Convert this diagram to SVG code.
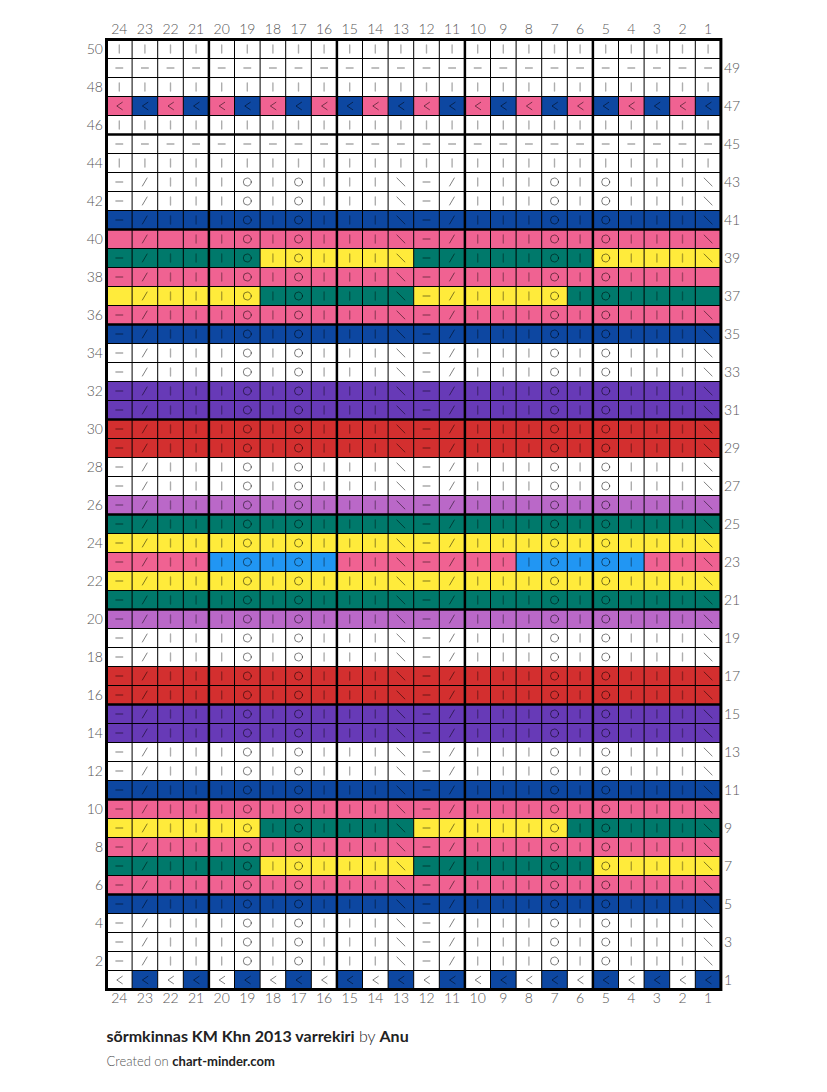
<svg xmlns="http://www.w3.org/2000/svg" xmlns:xlink="http://www.w3.org/1999/xlink" width="827" height="1092" viewBox="0 0 827 1092">
<style>
.pk{fill:#f06292}.bl{fill:#0d47a1}.gr{fill:#00796b}.ye{fill:#ffeb3b}.pu{fill:#673ab7}.rd{fill:#d32f2f}.or{fill:#ba68c8}.lb{fill:#2196f3}.wh{fill:#fff}
.sym{fill:none;stroke:#000;stroke-width:1;stroke-opacity:.5;stroke-linecap:round}
.k{stroke-opacity:.32;stroke-width:1.4}
.thin{fill:none;stroke:#000;stroke-width:1}
.thick{fill:none;stroke:#000;stroke-width:2.5}
.lab{font-family:Lato,"Liberation Sans",sans-serif;font-size:14px;fill:#555;font-weight:300}
.t1{font-family:Lato,"Liberation Sans",sans-serif;font-size:16px;fill:#222}
.t2{font-family:Lato,"Liberation Sans",sans-serif;font-size:13px;fill:#555}
</style>
<defs>
<path id="k" class="sym k" d="M12.8 5.5V13.5"/>
<path id="p" class="sym" d="M9.3 9.5H16.3"/>
<path id="r" class="sym" d="M10.3 13.5L15 5.5"/>
<path id="l" class="sym" d="M8.8 5.5L16.8 13.5"/>
<circle id="o" class="sym" cx="12.8" cy="9.5" r="4"/>
<path id="d" class="sym" d="M15.8 5.8L10.3 9.5L15.8 13.2"/>
<g id="std">
<use href="#p" x="0"/><use href="#r" x="25.6"/><use href="#k" x="51.2"/><use href="#k" x="76.8"/><use href="#k" x="102.4"/><use href="#o" x="128"/><use href="#k" x="153.6"/><use href="#o" x="179.2"/><use href="#k" x="204.8"/><use href="#k" x="230.4"/><use href="#k" x="256"/><use href="#l" x="281.6"/>
<use href="#p" x="307.2"/><use href="#r" x="332.8"/><use href="#k" x="358.4"/><use href="#k" x="384"/><use href="#k" x="409.6"/><use href="#o" x="435.2"/><use href="#k" x="460.8"/><use href="#o" x="486.4"/><use href="#k" x="512"/><use href="#k" x="537.6"/><use href="#k" x="563.2"/><use href="#l" x="588.8"/>
</g>
<g id="h12k"><use href="#k" x="0"/><use href="#k" x="25.6"/><use href="#k" x="51.2"/><use href="#k" x="76.8"/><use href="#k" x="102.4"/><use href="#k" x="128"/><use href="#k" x="153.6"/><use href="#k" x="179.2"/><use href="#k" x="204.8"/><use href="#k" x="230.4"/><use href="#k" x="256"/><use href="#k" x="281.6"/></g>
<g id="rk"><use href="#h12k"/><use href="#h12k" x="307.2"/></g>
<g id="h12p"><use href="#p" x="0"/><use href="#p" x="25.6"/><use href="#p" x="51.2"/><use href="#p" x="76.8"/><use href="#p" x="102.4"/><use href="#p" x="128"/><use href="#p" x="153.6"/><use href="#p" x="179.2"/><use href="#p" x="204.8"/><use href="#p" x="230.4"/><use href="#p" x="256"/><use href="#p" x="281.6"/></g>
<g id="rp"><use href="#h12p"/><use href="#h12p" x="307.2"/></g>
<g id="h12d"><use href="#d" x="0"/><use href="#d" x="25.6"/><use href="#d" x="51.2"/><use href="#d" x="76.8"/><use href="#d" x="102.4"/><use href="#d" x="128"/><use href="#d" x="153.6"/><use href="#d" x="179.2"/><use href="#d" x="204.8"/><use href="#d" x="230.4"/><use href="#d" x="256"/><use href="#d" x="281.6"/></g>
<g id="rd"><use href="#h12d"/><use href="#h12d" x="307.2"/></g>
<g id="alt"><rect x="25.6" width="25.6" height="19"/><rect x="76.8" width="25.6" height="19"/><rect x="128" width="25.6" height="19"/><rect x="179.2" width="25.6" height="19"/><rect x="230.4" width="25.6" height="19"/><rect x="281.6" width="25.6" height="19"/><rect x="332.8" width="25.6" height="19"/><rect x="384" width="25.6" height="19"/><rect x="435.2" width="25.6" height="19"/><rect x="486.4" width="25.6" height="19"/><rect x="537.6" width="25.6" height="19"/><rect x="588.8" width="25.6" height="19"/></g>
</defs>
<rect width="827" height="1092" fill="#fff"/>
<g id="chart" transform="translate(106.5,39.5)">
<g id="cells">
<rect class="pk" x="0" y="57" width="614.4" height="19"/>
<use href="#alt" y="57" class="bl"/>
<rect class="bl" x="0" y="171" width="614.4" height="19"/>
<rect class="pk" x="0" y="190" width="614.4" height="19"/>
<rect class="gr" x="0" y="209" width="614.4" height="19"/>
<rect class="ye" x="153.6" y="209" width="153.6" height="19"/>
<rect class="ye" x="486.4" y="209" width="128" height="19"/>
<rect class="pk" x="0" y="228" width="614.4" height="19"/>
<rect class="ye" x="0" y="247" width="614.4" height="19"/>
<rect class="gr" x="153.6" y="247" width="153.6" height="19"/>
<rect class="gr" x="460.8" y="247" width="153.6" height="19"/>
<rect class="pk" x="0" y="266" width="614.4" height="19"/>
<rect class="bl" x="0" y="285" width="614.4" height="19"/>
<rect class="pu" x="0" y="342" width="614.4" height="38"/>
<rect class="rd" x="0" y="380" width="614.4" height="38"/>
<rect class="or" x="0" y="456" width="614.4" height="19"/>
<rect class="gr" x="0" y="475" width="614.4" height="19"/>
<rect class="ye" x="0" y="494" width="614.4" height="19"/>
<rect class="pk" x="0" y="513" width="614.4" height="19"/>
<rect class="lb" x="102.4" y="513" width="128" height="19"/>
<rect class="lb" x="409.6" y="513" width="128" height="19"/>
<rect class="ye" x="0" y="532" width="614.4" height="19"/>
<rect class="gr" x="0" y="551" width="614.4" height="19"/>
<rect class="or" x="0" y="570" width="614.4" height="19"/>
<rect class="rd" x="0" y="627" width="614.4" height="38"/>
<rect class="pu" x="0" y="665" width="614.4" height="38"/>
<rect class="bl" x="0" y="741" width="614.4" height="19"/>
<rect class="pk" x="0" y="760" width="614.4" height="19"/>
<rect class="ye" x="0" y="779" width="614.4" height="19"/>
<rect class="gr" x="153.6" y="779" width="153.6" height="19"/>
<rect class="gr" x="460.8" y="779" width="153.6" height="19"/>
<rect class="pk" x="0" y="798" width="614.4" height="19"/>
<rect class="gr" x="0" y="817" width="614.4" height="19"/>
<rect class="ye" x="153.6" y="817" width="153.6" height="19"/>
<rect class="ye" x="486.4" y="817" width="128" height="19"/>
<rect class="pk" x="0" y="836" width="614.4" height="19"/>
<rect class="bl" x="0" y="855" width="614.4" height="19"/>
<use href="#alt" y="931" class="bl"/>
</g>
<g id="symbols">
<use href="#rk" y="0"/>
<use href="#rp" y="19"/>
<use href="#rk" y="38"/>
<use href="#rd" y="57"/>
<use href="#rk" y="76"/>
<use href="#rp" y="95"/>
<g transform="translate(0,114)"><use href="#h12k"/><use href="#k" x="307.2"/><use href="#k" x="332.8"/><use href="#k" x="358.4"/><use href="#k" x="384"/><use href="#k" x="409.6"/><use href="#k" x="435.2"/><use href="#k" x="460.8"/><use href="#k" x="486.4"/><use href="#k" x="512"/><use href="#k" x="537.6"/><use href="#k" x="563.2"/><use href="#k" x="588.8"/></g>
<use href="#std" y="133"/>
<use href="#std" y="152"/>
<use href="#std" y="171"/>
<g transform="translate(0,190)"><use href="#r" x="25.6"/><use href="#k" x="76.8"/><use href="#k" x="102.4"/><use href="#o" x="128"/><use href="#k" x="153.6"/><use href="#o" x="179.2"/><use href="#k" x="204.8"/><use href="#k" x="230.4"/><use href="#k" x="256"/><use href="#l" x="281.6"/><use href="#p" x="307.2"/><use href="#r" x="332.8"/><use href="#k" x="358.4"/><use href="#k" x="384"/><use href="#k" x="409.6"/><use href="#o" x="435.2"/><use href="#k" x="460.8"/><use href="#o" x="486.4"/><use href="#k" x="512"/><use href="#k" x="537.6"/><use href="#k" x="563.2"/><use href="#l" x="588.8"/></g>
<use href="#std" y="209"/>
<g transform="translate(0,228)"><use href="#p" x="0"/><use href="#r" x="25.6"/><use href="#k" x="51.2"/><use href="#k" x="76.8"/><use href="#k" x="102.4"/><use href="#o" x="128"/><use href="#k" x="153.6"/><use href="#o" x="179.2"/><use href="#k" x="204.8"/><use href="#k" x="230.4"/><use href="#k" x="256"/><use href="#l" x="281.6"/><use href="#p" x="307.2"/><use href="#r" x="332.8"/><use href="#k" x="358.4"/><use href="#k" x="384"/><use href="#k" x="409.6"/><use href="#o" x="435.2"/><use href="#k" x="460.8"/><use href="#o" x="486.4"/><use href="#k" x="512"/><use href="#k" x="537.6"/><use href="#k" x="563.2"/></g>
<g transform="translate(0,247)"><use href="#r" x="25.6"/><use href="#k" x="51.2"/><use href="#k" x="76.8"/><use href="#k" x="102.4"/><use href="#o" x="128"/><use href="#k" x="153.6"/><use href="#o" x="179.2"/><use href="#k" x="204.8"/><use href="#k" x="230.4"/><use href="#k" x="256"/><use href="#l" x="281.6"/><use href="#p" x="307.2"/><use href="#r" x="332.8"/><use href="#k" x="358.4"/><use href="#k" x="384"/><use href="#k" x="409.6"/><use href="#o" x="435.2"/><use href="#k" x="460.8"/><use href="#o" x="486.4"/><use href="#k" x="512"/><use href="#k" x="537.6"/><use href="#k" x="563.2"/></g>
<use href="#std" y="266"/>
<use href="#std" y="285"/>
<use href="#std" y="304"/>
<use href="#std" y="323"/>
<use href="#std" y="342"/>
<use href="#std" y="361"/>
<use href="#std" y="380"/>
<use href="#std" y="399"/>
<use href="#std" y="418"/>
<use href="#std" y="437"/>
<use href="#std" y="456"/>
<use href="#std" y="475"/>
<use href="#std" y="494"/>
<use href="#std" y="513"/>
<use href="#std" y="532"/>
<use href="#std" y="551"/>
<use href="#std" y="570"/>
<use href="#std" y="589"/>
<use href="#std" y="608"/>
<use href="#std" y="627"/>
<use href="#std" y="646"/>
<use href="#std" y="665"/>
<use href="#std" y="684"/>
<use href="#std" y="703"/>
<use href="#std" y="722"/>
<use href="#std" y="741"/>
<use href="#std" y="760"/>
<use href="#std" y="779"/>
<use href="#std" y="798"/>
<use href="#std" y="817"/>
<use href="#std" y="836"/>
<use href="#std" y="855"/>
<use href="#std" y="874"/>
<use href="#std" y="893"/>
<use href="#std" y="912"/>
<use href="#rd" y="931"/>
</g>
<g id="grid">
<path class="thin" d="M25.6 0V950M51.2 0V950M76.8 0V950M128 0V950M153.6 0V950M179.2 0V950M204.8 0V950M256 0V950M281.6 0V950M307.2 0V950M332.8 0V950M384 0V950M409.6 0V950M435.2 0V950M460.8 0V950M512 0V950M537.6 0V950M563.2 0V950M588.8 0V950M0 19H614.4M0 38H614.4M0 57H614.4M0 76H614.4M0 114H614.4M0 133H614.4M0 152H614.4M0 171H614.4M0 209H614.4M0 228H614.4M0 247H614.4M0 266H614.4M0 304H614.4M0 323H614.4M0 342H614.4M0 361H614.4M0 399H614.4M0 418H614.4M0 437H614.4M0 456H614.4M0 494H614.4M0 513H614.4M0 532H614.4M0 551H614.4M0 589H614.4M0 608H614.4M0 627H614.4M0 646H614.4M0 684H614.4M0 703H614.4M0 722H614.4M0 741H614.4M0 779H614.4M0 798H614.4M0 817H614.4M0 836H614.4M0 874H614.4M0 893H614.4M0 912H614.4M0 931H614.4"/>
<path class="thick" d="M102.4 0V950M230.4 0V950M358.4 0V950M486.4 0V950M0 95H614.4M0 190H614.4M0 285H614.4M0 380H614.4M0 475H614.4M0 570H614.4M0 665H614.4M0 760H614.4M0 855H614.4"/>
<rect class="thick" x="0" y="0" width="614.4" height="950" style="stroke-width:3"/>
</g>
</g>
<g id="col-labels-top" class="lab" text-anchor="middle">
<text x="119.3" y="34">24</text><text x="144.9" y="34">23</text><text x="170.5" y="34">22</text><text x="196.1" y="34">21</text><text x="221.7" y="34">20</text><text x="247.3" y="34">19</text><text x="272.9" y="34">18</text><text x="298.5" y="34">17</text><text x="324.1" y="34">16</text><text x="349.7" y="34">15</text><text x="375.3" y="34">14</text><text x="400.9" y="34">13</text><text x="426.5" y="34">12</text><text x="452.1" y="34">11</text><text x="477.7" y="34">10</text><text x="503.3" y="34">9</text><text x="528.9" y="34">8</text><text x="554.5" y="34">7</text><text x="580.1" y="34">6</text><text x="605.7" y="34">5</text><text x="631.3" y="34">4</text><text x="656.9" y="34">3</text><text x="682.5" y="34">2</text><text x="708.1" y="34">1</text>
</g>
<g id="col-labels-bottom" class="lab" text-anchor="middle">
<text x="119.3" y="1003">24</text><text x="144.9" y="1003">23</text><text x="170.5" y="1003">22</text><text x="196.1" y="1003">21</text><text x="221.7" y="1003">20</text><text x="247.3" y="1003">19</text><text x="272.9" y="1003">18</text><text x="298.5" y="1003">17</text><text x="324.1" y="1003">16</text><text x="349.7" y="1003">15</text><text x="375.3" y="1003">14</text><text x="400.9" y="1003">13</text><text x="426.5" y="1003">12</text><text x="452.1" y="1003">11</text><text x="477.7" y="1003">10</text><text x="503.3" y="1003">9</text><text x="528.9" y="1003">8</text><text x="554.5" y="1003">7</text><text x="580.1" y="1003">6</text><text x="605.7" y="1003">5</text><text x="631.3" y="1003">4</text><text x="656.9" y="1003">3</text><text x="682.5" y="1003">2</text><text x="708.1" y="1003">1</text>
</g>
<g id="row-labels-left" class="lab" text-anchor="end">
<text x="103" y="54">50</text><text x="103" y="92">48</text><text x="103" y="130">46</text><text x="103" y="168">44</text><text x="103" y="206">42</text><text x="103" y="244">40</text><text x="103" y="282">38</text><text x="103" y="320">36</text><text x="103" y="358">34</text><text x="103" y="396">32</text><text x="103" y="434">30</text><text x="103" y="472">28</text><text x="103" y="510">26</text><text x="103" y="548">24</text><text x="103" y="586">22</text><text x="103" y="624">20</text><text x="103" y="662">18</text><text x="103" y="700">16</text><text x="103" y="738">14</text><text x="103" y="776">12</text><text x="103" y="814">10</text><text x="103" y="852">8</text><text x="103" y="890">6</text><text x="103" y="928">4</text><text x="103" y="966">2</text>
</g>
<g id="row-labels-right" class="lab" text-anchor="start">
<text x="724" y="73">49</text><text x="724" y="111">47</text><text x="724" y="149">45</text><text x="724" y="187">43</text><text x="724" y="225">41</text><text x="724" y="263">39</text><text x="724" y="301">37</text><text x="724" y="339">35</text><text x="724" y="377">33</text><text x="724" y="415">31</text><text x="724" y="453">29</text><text x="724" y="491">27</text><text x="724" y="529">25</text><text x="724" y="567">23</text><text x="724" y="605">21</text><text x="724" y="643">19</text><text x="724" y="681">17</text><text x="724" y="719">15</text><text x="724" y="757">13</text><text x="724" y="795">11</text><text x="724" y="833">9</text><text x="724" y="871">7</text><text x="724" y="909">5</text><text x="724" y="947">3</text><text x="724" y="985">1</text>
</g>
<g id="footer">
<text class="t1" x="106.5" y="1042"><tspan font-weight="700">sõrmkinnas KM Khn 2013 varrekiri</tspan><tspan font-weight="300"> by </tspan><tspan font-weight="700">Anu</tspan></text>
<text class="t2" x="106.5" y="1066"><tspan font-weight="300">Created on </tspan><tspan font-weight="700" fill="#222">chart-minder.com</tspan></text>
</g>
</svg>
